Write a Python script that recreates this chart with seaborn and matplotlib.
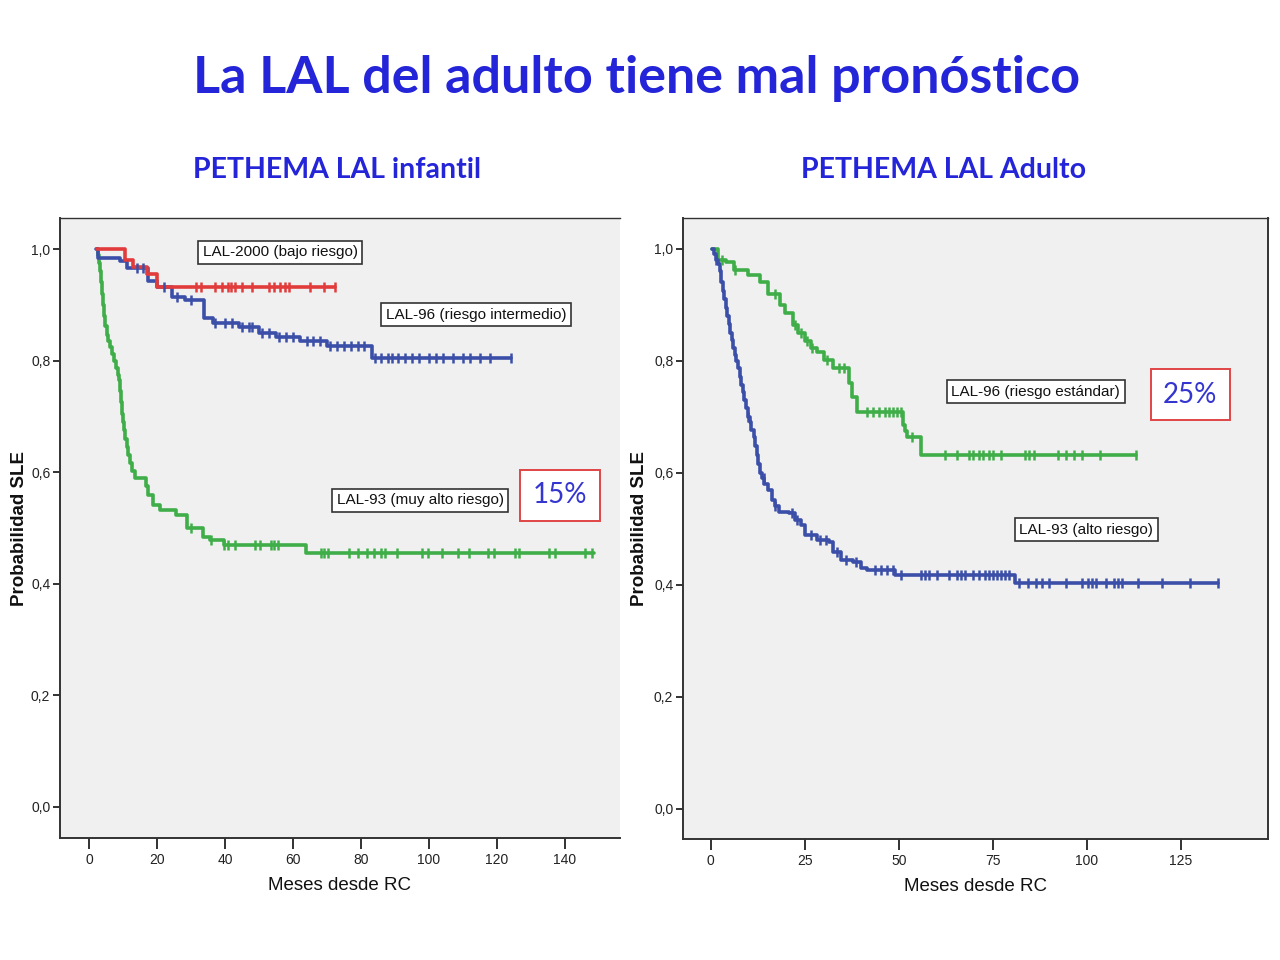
import numpy as np
import pandas as pd
import matplotlib
matplotlib.use("Agg")
import matplotlib.pyplot as plt
import seaborn as sns
from matplotlib import font_manager

# ---- data ----
# PETHEMA LAL infantil
red_t = [2.5, 10.6, 13.0, 17.0, 20.0, 72.4]
red_s = [1.0, 0.980, 0.968, 0.955, 0.932, 0.932]
red_cens = [31.5, 33, 37, 39, 40.8, 41.8, 43, 45, 48, 52.9, 54.4, 56.2, 57.6, 58.8, 65, 69, 72.4]

blue_t = [2.2, 2.6, 9.0, 11.3, 17.3, 20.0, 24.5, 28.2, 33.8, 36.5, 44.0, 50.0, 55.0, 62.0, 70.0, 83.4, 124.0]
blue_s = [1.0, 0.984, 0.978, 0.966, 0.943, 0.932, 0.914, 0.909, 0.876, 0.867, 0.860, 0.850, 0.843, 0.835, 0.826, 0.805, 0.805]
blue_cens = [14, 16, 22, 26, 30, 37, 40, 42, 45, 47, 48, 51, 53, 56, 58, 60, 64, 66, 68, 71, 73, 75,
             77, 79, 81, 84, 86, 88, 89, 91, 93, 95, 97, 100, 102, 104, 107, 110, 112, 115, 118, 124]

green_t = [2.3, 2.7, 3.0, 3.3, 3.6, 3.9, 4.2, 4.5, 4.8, 5.2, 5.7, 6.2, 6.8, 7.4, 8.0, 8.5, 8.8, 9.1,
           9.4, 9.7, 10.0, 10.3, 10.7, 11.1, 11.5, 12.0, 12.7, 13.5, 16.8, 17.5, 18.8, 20.9, 25.6,
           28.8, 33.5, 35.6, 39.7, 63.8, 148.5]
green_s = [1.0, 0.99, 0.975, 0.96, 0.94, 0.92, 0.9, 0.88, 0.862, 0.846, 0.835, 0.825, 0.812, 0.8,
           0.787, 0.775, 0.765, 0.745, 0.725, 0.705, 0.69, 0.676, 0.66, 0.645, 0.63, 0.617, 0.603,
           0.59, 0.575, 0.56, 0.541, 0.532, 0.523, 0.5, 0.484, 0.479, 0.47, 0.455, 0.455]
green_cens = [30, 36, 39.7, 40.9, 43, 48.8, 50.3, 53.5, 54.4, 55.6, 68.2, 69.1, 70.3, 76.5,
              79.1, 81.8, 83.8, 85.9, 87, 90.7, 98.1, 99.7, 103.8, 108.5, 111.8, 117.5, 119.1,
              125.3, 126.5, 135.3, 137, 145.9, 148]

# PETHEMA LAL Adulto
rg_t = [0.3, 1.9, 4.0, 6.1, 9.9, 13.0, 15.2, 18.4, 19.6, 21.8, 23.3, 24.9, 26.5, 28.1, 30.2, 32.4,
        36.7, 37.5, 38.8, 51.0, 51.6, 52.1, 55.9, 113.0]
rg_s = [1.0, 0.98, 0.977, 0.963, 0.953, 0.941, 0.92, 0.9, 0.886, 0.864, 0.85, 0.836, 0.823, 0.816,
        0.802, 0.787, 0.76, 0.735, 0.709, 0.686, 0.675, 0.664, 0.632, 0.632]
rg_cens = [3, 6.5, 17, 22.5, 24, 25.5, 27, 31, 34, 35.5, 41.5, 43.1, 44.7, 46.3, 47.3, 48.4, 49.5,
           50.5, 53.5, 62.2, 65.4, 68.6, 69.7, 71.3, 72.3, 73.9, 75, 77.1, 83.6, 84.7, 85.8, 92.2,
           94.3, 96.5, 98.6, 103.4, 113]

rb_t = [0.3, 0.8, 1.3, 1.8, 2.4, 2.8, 3.2, 3.6, 4.0, 4.4, 4.8, 5.2, 5.6, 6.0, 6.4, 6.8, 7.2, 7.7,
        8.1, 8.5, 8.9, 9.3, 9.8, 10.3, 10.8, 11.4, 11.8, 12.2, 12.6, 13.0, 13.5, 14.2, 15.2, 16.2,
        17.0, 18.0, 20.8, 22.3, 24.0, 25.0, 28.2, 31.4, 32.4, 34.6, 37.8, 40.0, 41.5, 49.0, 80.9,
        134.8]
rb_s = [1.0, 0.99, 0.98, 0.972, 0.96, 0.94, 0.925, 0.91, 0.895, 0.88, 0.865, 0.85, 0.837, 0.823,
        0.81, 0.8, 0.787, 0.771, 0.757, 0.745, 0.73, 0.715, 0.7, 0.69, 0.677, 0.664, 0.648, 0.632,
        0.615, 0.6, 0.59, 0.58, 0.57, 0.552, 0.54, 0.53, 0.529, 0.516, 0.507, 0.489, 0.48, 0.477,
        0.459, 0.445, 0.441, 0.43, 0.427, 0.418, 0.404, 0.404]
rb_cens = [1.5, 10, 14, 17, 21.5, 23, 26.5, 29, 30.5, 33.5, 36, 38.5, 43.6, 45.2, 46.8, 48.4, 50.5,
           55.9, 56.9, 58, 60, 63.3, 65.4, 66.5, 67.6, 69.7, 71.3, 72.9, 73.9, 75, 76, 77, 78.2,
           79.3, 82, 84.2, 86.3, 87.9, 90, 94.3, 98.6, 100.2, 101.3, 102.3, 105, 107.1, 108.2,
           109.3, 113.5, 119.9, 127.4, 134.8]

left_xticks = [0, 20, 40, 60, 80, 100, 120, 140]
right_xticks = [0, 25, 50, 75, 100, 125]
yticks = [0.0, 0.2, 0.4, 0.6, 0.8, 1.0]
ytick_labels = ["0,0", "0,2", "0,4", "0,6", "0,8", "1,0"]

RED = "#e23b3b"
BLUE = "#3b4fa8"
GREEN = "#3fae49"
TITLE_BLUE = "#2424d8"

sns.set_style("white")
names = {f.name for f in font_manager.fontManager.ttflist}
narrow = "Liberation Sans Narrow" if "Liberation Sans Narrow" in names else "Liberation Sans"
plt.rcParams["font.family"] = ["Liberation Sans", "DejaVu Sans"]


def step_level(t, s, c):
    idx = np.searchsorted(t, c, side="right") - 1
    idx = np.clip(idx, 0, len(s) - 1)
    return np.asarray(s)[idx]


def draw_curve(ax, t, s, cens, color):
    df = pd.DataFrame({"t": t, "s": s})
    sns.lineplot(data=df, x="t", y="s", ax=ax, color=color, linewidth=2.6,
                 drawstyle="steps-post", estimator=None, sort=False)
    cdf = pd.DataFrame({"t": cens, "s": step_level(t, s, cens)})
    sns.scatterplot(data=cdf, x="t", y="s", ax=ax, color=color, marker="|",
                    s=45, linewidth=1.8, zorder=3)


def style_axes(ax, xlim, ylim, xticks, right_spine, ylabel_x):
    ax.set_facecolor("#f0f0f0")
    ax.set_xlim(*xlim)
    ax.set_ylim(*ylim)
    ax.set_xticks(xticks)
    ax.set_xticklabels([str(v) for v in xticks], fontfamily=narrow, fontsize=10, color="#222222")
    ax.set_yticks(yticks)
    ax.set_yticklabels(ytick_labels, fontfamily=narrow, fontsize=10, color="#222222")
    ax.tick_params(axis="x", bottom=True, direction="out", length=8, width=1.3,
                   color="#222222", pad=3)
    ax.tick_params(axis="y", left=True, direction="out", length=5, width=1.3,
                   color="#222222", pad=2)
    for side in ["left", "bottom", "top", "right"]:
        ax.spines[side].set_color("#333333")
        ax.spines[side].set_linewidth(1.4)
    ax.spines["top"].set_linewidth(1.0)
    ax.spines["right"].set_visible(right_spine)
    ax.set_xlabel("Meses desde RC", fontfamily=narrow, fontsize=13.5, color="#111111", labelpad=7)
    ax.set_ylabel("Probabilidad SLE", fontsize=13.5, fontweight="bold", color="#111111")
    ax.yaxis.set_label_coords(ylabel_x, 0.5)


def label_box(ax, x, y, text, size):
    ax.text(x, y, text, transform=ax.transAxes, ha="center", va="center",
            fontfamily=narrow, fontsize=size, color="#111111",
            bbox=dict(boxstyle="square,pad=0.3", facecolor="white", edgecolor="#333333", linewidth=1.2))


def pct_box(ax, x, y, text):
    ax.text(x, y, text, transform=ax.transAxes, ha="center", va="center",
            fontfamily=["Lato", "DejaVu Sans"], fontsize=20, color="#3535d0",
            bbox=dict(boxstyle="square,pad=0.45", facecolor="white", edgecolor="#e04545", linewidth=1.4))


fig = plt.figure(figsize=(12.8, 9.6), dpi=100)
ax1 = fig.add_axes([60 / 1280, 1 - 838 / 960, 560 / 1280, 620 / 960])
ax2 = fig.add_axes([683 / 1280, 1 - 839 / 960, 585 / 1280, 621 / 960])

draw_curve(ax1, green_t, green_s, green_cens, GREEN)
draw_curve(ax1, blue_t, blue_s, blue_cens, BLUE)
draw_curve(ax1, red_t, red_s, red_cens, RED)
style_axes(ax1, (-8.5, 156.2), (-0.0556, 1.0556), left_xticks, False, -0.058)

draw_curve(ax2, rg_t, rg_s, rg_cens, GREEN)
draw_curve(ax2, rb_t, rb_s, rb_cens, BLUE)
style_axes(ax2, (-7.4, 148.1), (-0.054, 1.055), right_xticks, True, -0.06)

lab_size = 13 if narrow.endswith("Narrow") else 11
label_box(ax1, 0.393, 0.945, "LAL-2000 (bajo riesgo)", lab_size)
label_box(ax1, 0.743, 0.844, "LAL-96 (riesgo intermedio)", lab_size)
label_box(ax1, 0.643, 0.545, "LAL-93 (muy alto riesgo)", lab_size)
pct_box(ax1, 0.893, 0.553, "15%")

label_box(ax2, 0.603, 0.720, "LAL-96 (riesgo estándar)", lab_size)
label_box(ax2, 0.689, 0.498, "LAL-93 (alto riesgo)", lab_size)
pct_box(ax2, 0.867, 0.715, "25%")

fig.text(0.497, 1 - 79 / 960, "La LAL del adulto tiene mal pronóstico", ha="center", va="center",
         fontfamily=["Lato", "DejaVu Sans"], fontweight="bold", fontsize=37.5, color=TITLE_BLUE)
fig.text(337 / 1280, 1 - 170 / 960, "PETHEMA LAL infantil", ha="center", va="center",
         fontfamily=["Lato", "DejaVu Sans"], fontweight="bold", fontsize=20.5, color=TITLE_BLUE)
fig.text(944 / 1280, 1 - 170 / 960, "PETHEMA LAL Adulto", ha="center", va="center",
         fontfamily=["Lato", "DejaVu Sans"], fontweight="bold", fontsize=20.5, color=TITLE_BLUE)

fig.savefig("out.png", dpi=100, facecolor="white")
